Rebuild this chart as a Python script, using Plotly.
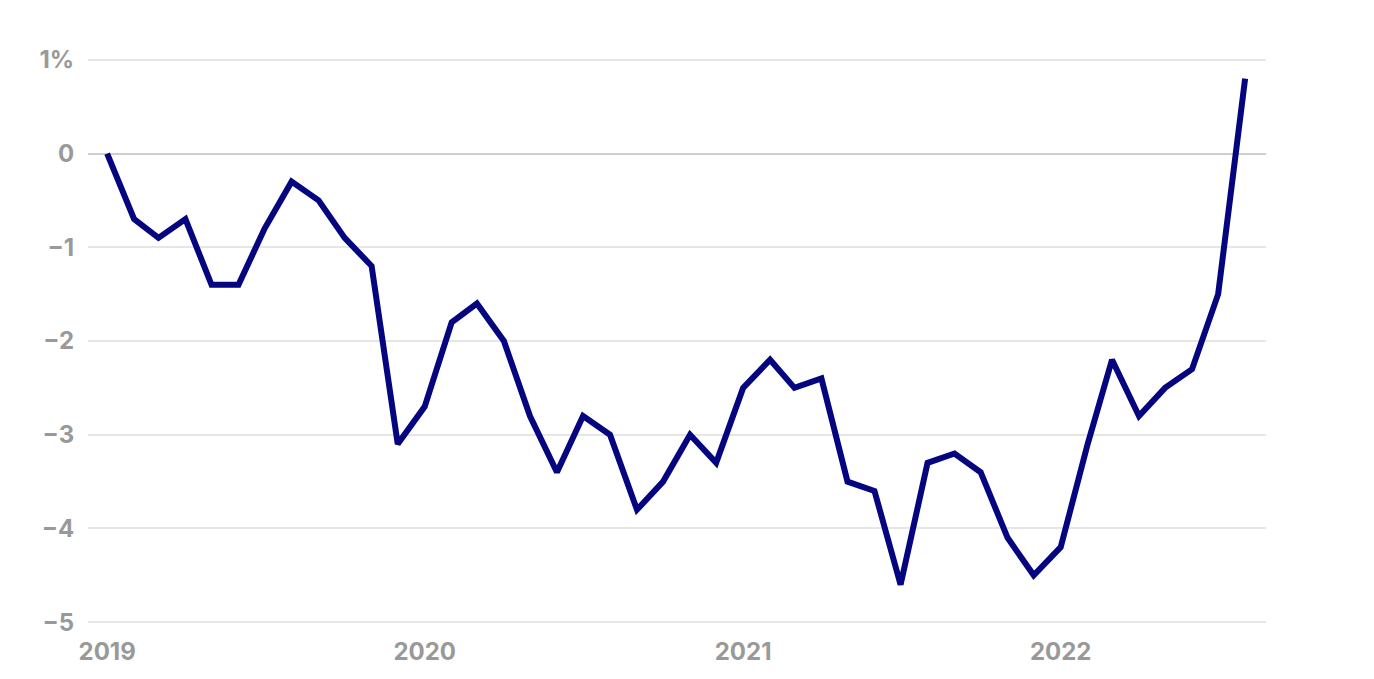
import plotly.graph_objects as go
import pandas as pd

months = pd.date_range("2019-01-01", "2022-08-01", freq="MS")
values = [0.0, -0.7, -0.9, -0.7, -1.4, -1.4, -0.8, -0.3, -0.5, -0.9, -1.2, -3.1,
          -2.7, -1.8, -1.6, -2.0, -2.8, -3.4, -2.8, -3.0, -3.8, -3.5, -3.0, -3.3,
          -2.5, -2.2, -2.5, -2.4, -3.5, -3.6, -4.6, -3.3, -3.2, -3.4, -4.1, -4.5,
          -4.2, -3.1, -2.2, -2.8, -2.5, -2.3, -1.5, 0.8]
y_ticks = [-5, -4, -3, -2, -1, 0, 1]
y_tick_labels = ["\u22125", "\u22124", "\u22123", "\u22122", "\u22121", "0", "1%"]
x_ticks = ["2019-01-01", "2020-01-01", "2021-01-01", "2022-01-01"]
x_tick_labels = ["2019", "2020", "2021", "2022"]

tick_font = dict(family="Inter", size=24, color="#999999", weight=700)

fig = go.Figure()
fig.add_trace(go.Scatter(x=months, y=values, mode="lines",
                         line=dict(color="#05057f", width=6, shape="linear"),
                         hoverinfo="skip"))

fig.update_layout(
    width=1374, height=679,
    margin=dict(l=80, r=116, t=49, b=62),
    paper_bgcolor="white", plot_bgcolor="white",
    showlegend=False,
    font=dict(family="Inter", size=24, color="#999999"),
)
fig.update_xaxes(
    range=["2018-12-10", "2022-08-25"],
    tickvals=x_ticks, ticktext=x_tick_labels,
    showgrid=False, zeroline=False, showline=False,
    ticks="outside", ticklen=5, tickcolor="rgba(0,0,0,0)",
    tickfont=tick_font,
)
fig.update_yaxes(
    range=[-5.03, 1.03],
    tickvals=y_ticks, ticktext=y_tick_labels,
    showgrid=True, gridcolor="#e6e6e6", gridwidth=1.5,
    zeroline=True, zerolinecolor="#cfcfcf", zerolinewidth=1.5,
    showline=False,
    ticks="outside", ticklen=8, tickcolor="rgba(0,0,0,0)",
    tickfont=tick_font,
)
fig.write_html("out.html")
